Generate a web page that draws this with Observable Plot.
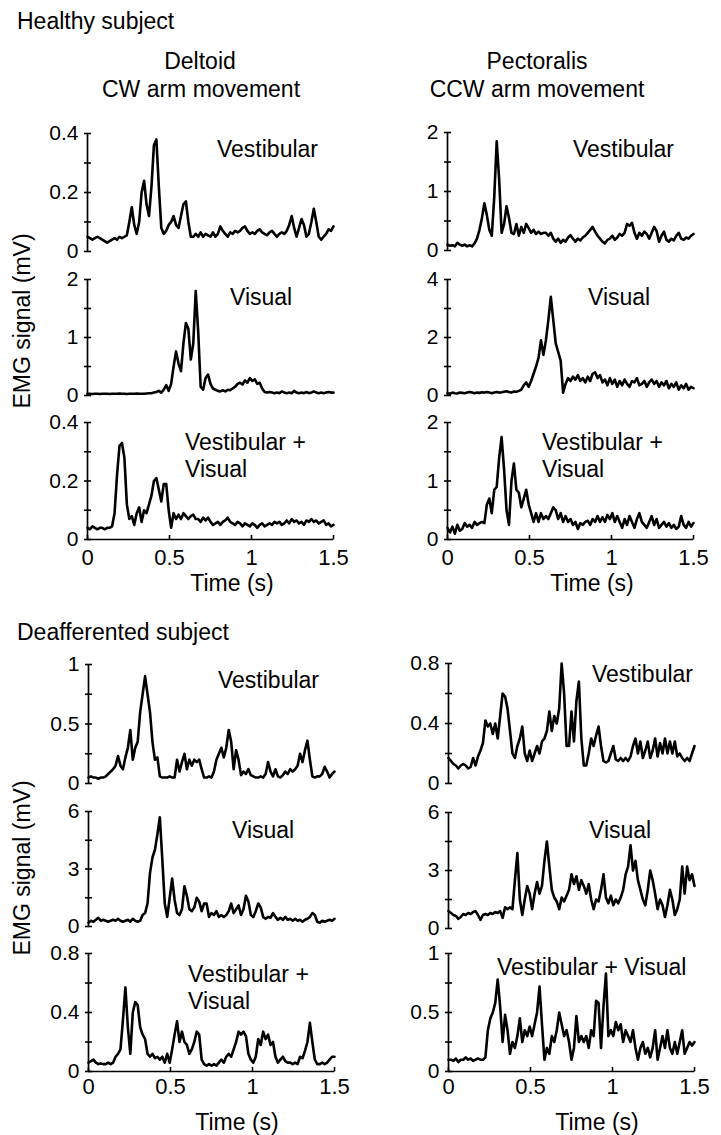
<!DOCTYPE html>
<html>
<head>
<meta charset="utf-8">
<script src="https://cdn.jsdelivr.net/npm/d3@7"></script>
<script src="https://cdn.jsdelivr.net/npm/@observablehq/plot@0.6"></script>
<style>
  body { margin: 0; background: #fff; }
  #fig { position: relative; width: 721px; height: 1135px; overflow: hidden;
         font-family: "Liberation Sans", Arial, sans-serif; color: #000; background: #fff; }
  .t { position: absolute; white-space: nowrap; line-height: 1; font-size: 23px; transform: translateY(-50%); }
  .c { transform: translate(-50%, -50%); }
  .rot { position: absolute; white-space: nowrap; line-height: 1; font-size: 23px;
         transform: translate(-50%, -50%) rotate(-90deg); }
</style>
</head>
<body>
<div id="fig"></div>
<script>
// ---------- data (EMG signal in mV, sampled every timeStep seconds from 0 to 1.5 s) ----------
const timeStep = 0.015;
const xTicks = [0, 0.5, 1, 1.5];

const healthyDeltoidVestibular = [0.05,0.045,0.04,0.045,0.05,0.045,0.04,0.035,0.03,0.035,0.04,0.045,0.04,0.05,0.045,0.05,0.055,
  0.10,0.15,0.09,0.06,0.10,0.20,0.24,0.16,0.12,0.22,0.36,0.38,0.22,
  0.08,0.06,0.07,0.09,0.10,0.12,0.09,0.08,0.12,0.16,
  0.17,0.10,0.05,0.05,0.06,0.05,0.065,0.05,0.06,0.055,
  0.05,0.065,0.05,0.06,0.085,0.07,0.06,0.05,0.065,0.06,
  0.07,0.065,0.07,0.08,0.085,0.07,0.06,0.065,0.06,0.07,
  0.075,0.065,0.06,0.055,0.065,0.07,0.06,0.05,0.06,0.065,
  0.06,0.07,0.09,0.12,0.08,0.05,0.08,0.11,0.09,0.05,
  0.06,0.10,0.145,0.10,0.05,0.04,0.05,0.06,0.075,0.07,0.085];
const healthyDeltoidVisual = [0.03,0.03,0.025,0.03,0.03,0.025,0.03,0.03,0.03,0.025,0.03,0.03,0.03,0.035,0.03,0.03,0.025,0.03,0.03,0.03,0.035,0.03,0.03,0.03,0.035,0.04,0.04,0.05,0.06,
  0.08,0.05,0.1,0.18,0.08,0.2,0.5,0.76,0.55,0.42,0.9,1.25,1.15,0.62,0.9,1.8,1.1,
  0.15,0.1,0.3,0.36,0.2,0.12,0.1,0.08,0.07,0.09,
  0.07,0.1,0.09,0.12,0.15,0.2,0.22,0.19,0.26,0.22,
  0.3,0.25,0.28,0.2,0.22,0.12,0.06,0.05,0.06,0.05,
  0.04,0.05,0.04,0.07,0.05,0.04,0.05,0.04,0.08,0.05,
  0.04,0.05,0.04,0.06,0.04,0.05,0.07,0.05,0.04,0.05,0.04,0.05,0.06,0.05,0.05];
const healthyDeltoidBoth = [0.04,0.035,0.045,0.04,0.035,0.04,0.04,0.035,0.04,0.04,0.045,
  0.09,0.22,0.32,0.33,0.28,0.12,0.07,0.08,0.05,0.09,
  0.11,0.06,0.1,0.09,0.12,0.15,0.2,0.21,0.17,0.13,
  0.19,0.19,0.1,0.04,0.09,0.07,0.085,0.07,0.09,0.08,
  0.07,0.08,0.085,0.07,0.07,0.06,0.075,0.065,0.075,0.06,
  0.05,0.055,0.06,0.05,0.06,0.065,0.075,0.06,0.055,0.05,
  0.06,0.055,0.045,0.055,0.05,0.045,0.055,0.05,0.04,0.05,
  0.055,0.045,0.05,0.055,0.05,0.06,0.055,0.06,0.05,0.055,
  0.065,0.055,0.07,0.06,0.065,0.055,0.06,0.05,0.065,0.06,
  0.07,0.06,0.065,0.055,0.06,0.065,0.05,0.055,0.045,0.05];
const healthyPectoralisVestibular = [0.1,0.08,0.09,0.07,0.13,0.1,0.08,0.1,0.07,0.09,0.07,0.12,
  0.2,0.35,0.55,0.8,0.6,0.35,0.25,0.9,1.85,1.2,
  0.3,0.45,0.75,0.55,0.3,0.28,0.45,0.25,0.4,0.3,
  0.45,0.38,0.3,0.35,0.28,0.32,0.28,0.3,
  0.3,0.25,0.3,0.2,0.15,0.2,0.13,0.18,0.15,0.22,
  0.26,0.2,0.15,0.2,0.17,0.22,0.25,0.3,0.35,0.4,
  0.32,0.25,0.2,0.15,0.12,0.18,0.2,0.25,0.18,0.22,
  0.28,0.25,0.3,0.45,0.42,0.47,0.3,0.2,0.3,0.25,
  0.32,0.28,0.2,0.3,0.4,0.33,0.15,0.25,0.32,0.18,
  0.15,0.2,0.17,0.25,0.3,0.2,0.18,0.22,0.2,0.25,0.28];
const healthyPectoralisVisual = [0.08,0.06,0.1,0.08,0.07,0.1,0.09,0.08,0.1,0.12,0.1,0.08,0.1,0.09,0.11,0.1,0.12,0.1,0.08,0.1,0.12,0.1,0.11,0.13,0.15,0.12,0.1,0.14,0.13,0.16,0.2,
  0.35,0.45,0.3,0.5,0.75,1.0,1.3,1.9,1.4,1.9,2.6,3.4,2.6,1.8,1.5,1.2,0.1,
  0.4,0.6,0.5,0.65,0.55,0.7,0.5,0.6,0.45,0.65,
  0.5,0.75,0.8,0.6,0.7,0.45,0.55,0.35,0.6,0.4,
  0.55,0.3,0.5,0.35,0.55,0.4,0.3,0.5,0.45,0.6,
  0.35,0.4,0.5,0.3,0.45,0.55,0.4,0.5,0.3,0.45,
  0.35,0.5,0.25,0.4,0.3,0.45,0.2,0.35,0.25,0.4,0.2,0.3,0.25];
const healthyPectoralisBoth = [0.2,0.12,0.22,0.1,0.25,0.15,0.18,0.28,0.22,0.25,0.2,0.3,0.25,0.28,0.3,
  0.28,0.6,0.7,0.45,0.85,0.9,1.4,1.75,1.2,0.5,
  0.25,1.0,1.3,0.85,0.8,0.55,0.7,0.85,0.6,0.45,
  0.3,0.45,0.3,0.45,0.35,0.4,0.35,0.45,0.55,0.5,
  0.35,0.45,0.3,0.4,0.3,0.35,0.25,0.3,0.18,0.28,
  0.25,0.3,0.32,0.25,0.35,0.3,0.4,0.3,0.38,0.3,
  0.42,0.35,0.45,0.3,0.4,0.3,0.2,0.35,0.25,0.4,
  0.3,0.2,0.35,0.45,0.3,0.25,0.2,0.3,0.4,0.25,
  0.35,0.2,0.25,0.3,0.22,0.28,0.2,0.25,0.18,0.22,
  0.4,0.25,0.2,0.3,0.22,0.28];
const deafDeltoidVestibular = [0.05,0.06,0.05,0.05,0.04,0.05,0.05,0.06,
  0.08,0.1,0.12,0.15,0.23,0.15,0.12,0.22,0.3,0.45,
  0.2,0.3,0.35,0.6,0.75,0.9,0.75,0.6,0.35,0.2,
  0.22,0.06,0.05,0.05,0.05,0.06,0.05,0.05,0.2,0.1,
  0.18,0.25,0.12,0.2,0.15,0.2,0.18,0.2,0.12,0.05,
  0.05,0.06,0.05,0.1,0.2,0.25,0.3,0.22,0.3,0.45,
  0.35,0.12,0.28,0.2,0.07,0.1,0.08,0.12,0.07,0.06,
  0.05,0.05,0.06,0.05,0.08,0.18,0.1,0.06,0.12,0.06,
  0.05,0.07,0.1,0.08,0.12,0.1,0.12,0.15,0.25,0.18,
  0.28,0.36,0.2,0.06,0.05,0.06,0.06,0.08,0.14,0.1,0.05,0.08,0.1];
const deafDeltoidVisual = [0.2,0.3,0.25,0.35,0.45,0.3,0.35,
  0.3,0.25,0.3,0.35,0.3,0.4,0.3,0.25,0.3,0.35,0.25,0.4,0.3,0.25,0.3,
  0.6,0.7,1.2,2.8,3.6,4.0,4.8,5.7,3.5,1.2,
  0.5,1.5,2.5,1.4,0.7,0.6,0.9,2.1,1.6,0.9,
  0.8,1.0,1.5,1.3,0.8,1.2,1.2,0.5,0.7,0.6,0.8,0.5,0.6,
  0.5,0.6,0.8,1.2,0.7,0.9,1.1,0.6,0.9,1.6,
  1.3,0.6,0.5,0.8,1.2,1.0,0.5,0.4,0.5,0.45,
  0.7,0.5,0.35,0.45,0.35,0.5,0.35,0.4,0.3,0.4,
  0.3,0.35,0.25,0.35,0.4,0.5,0.7,0.6,0.25,0.2,
  0.3,0.25,0.3,0.35,0.3,0.4];
const deafDeltoidBoth = [0.06,0.07,0.08,0.06,0.05,0.055,0.05,0.05,0.06,0.05,0.06,
  0.1,0.12,0.15,0.35,0.57,0.3,0.12,0.4,0.47,0.45,
  0.3,0.25,0.22,0.12,0.1,0.12,0.09,0.1,0.08,0.1,
  0.06,0.12,0.06,0.15,0.25,0.34,0.2,0.27,0.2,0.18,
  0.12,0.15,0.2,0.27,0.25,0.08,0.05,0.04,0.05,0.04,
  0.05,0.04,0.06,0.08,0.06,0.1,0.12,0.1,0.15,0.2,
  0.27,0.25,0.27,0.24,0.12,0.08,0.06,0.1,0.22,0.18,
  0.27,0.22,0.25,0.18,0.2,0.1,0.06,0.08,0.1,0.07,
  0.06,0.06,0.05,0.06,0.05,0.1,0.09,0.14,0.2,0.33,
  0.2,0.08,0.05,0.05,0.06,0.05,0.06,0.08,0.1,0.1];
const deafPectoralisVestibular = [0.17,0.15,0.13,0.12,0.1,0.12,0.13,0.12,0.1,0.11,
  0.17,0.12,0.18,0.22,0.27,0.42,0.38,0.4,0.33,0.4,
  0.3,0.45,0.6,0.58,0.5,0.35,0.2,0.17,0.25,0.3,
  0.38,0.2,0.15,0.22,0.15,0.2,0.25,0.2,0.28,0.3,
  0.35,0.48,0.35,0.45,0.4,0.5,0.8,0.6,0.25,0.25,
  0.48,0.28,0.55,0.68,0.3,0.12,0.12,0.2,0.3,0.25,
  0.32,0.38,0.25,0.15,0.14,0.15,0.2,0.25,0.16,0.15,
  0.17,0.15,0.17,0.15,0.18,0.25,0.3,0.2,0.28,0.17,
  0.22,0.28,0.17,0.22,0.3,0.18,0.27,0.2,0.3,0.2,
  0.28,0.2,0.28,0.18,0.2,0.17,0.15,0.17,0.15,0.2,0.25];
const deafPectoralisVisual = [0.9,0.8,0.7,0.65,0.5,0.6,0.75,0.7,0.8,0.75,
  0.85,0.9,0.7,0.45,0.7,0.75,0.7,0.8,0.75,0.85,
  0.8,0.9,0.55,1.1,1.0,1.1,1.0,2.5,3.9,1.5,
  0.7,1.5,2.2,1.8,1.0,1.8,2.4,1.8,2.2,3.5,
  4.5,3.2,2.0,1.6,1.4,1.0,1.6,1.4,1.7,2.0,
  2.8,2.3,2.7,2.0,2.5,2.2,1.8,2.3,1.5,1.0,
  1.5,1.4,2.0,2.8,1.6,1.3,1.7,1.2,1.5,1.3,
  1.6,2.0,2.8,3.2,4.3,3.0,3.5,2.5,2.0,1.5,
  1.2,2.0,3.0,2.5,1.8,1.0,1.5,1.2,0.6,1.2,
  2.0,1.5,0.7,1.0,1.5,3.2,1.8,3.2,2.5,2.8,2.2];
const deafPectoralisBoth = [0.1,0.1,0.09,0.11,0.08,0.1,0.1,0.12,0.1,0.11,0.09,0.1,0.11,0.1,0.1,0.12,
  0.35,0.45,0.5,0.58,0.78,0.55,0.25,0.48,0.35,0.15,
  0.25,0.2,0.3,0.45,0.25,0.35,0.3,0.38,0.3,0.4,
  0.5,0.72,0.4,0.1,0.2,0.15,0.3,0.25,0.35,0.5,
  0.4,0.3,0.35,0.25,0.1,0.2,0.47,0.25,0.3,0.25,
  0.3,0.2,0.35,0.3,0.6,0.58,0.2,0.55,0.83,0.3,
  0.35,0.3,0.42,0.35,0.4,0.25,0.35,0.3,0.25,0.35,
  0.2,0.1,0.2,0.25,0.15,0.2,0.12,0.2,0.35,0.1,
  0.2,0.3,0.2,0.35,0.2,0.15,0.25,0.15,0.25,0.35,
  0.15,0.2,0.25,0.22,0.25];

// y-axis tick values (minor = all tick marks, major = labelled)
const ticks04 = {minor: [0, 0.1, 0.2, 0.3, 0.4], major: [0, 0.2, 0.4]};
const ticks2 = {minor: [0, 0.5, 1, 1.5, 2], major: [0, 1, 2]};
const ticks4 = {minor: [0, 1, 2, 3, 4], major: [0, 2, 4]};
const ticks1 = {minor: [0, 0.25, 0.5, 0.75, 1], major: [0, 0.5, 1]};
const ticks6 = {minor: [0, 1.5, 3, 4.5, 6], major: [0, 3, 6]};
const ticks08 = {minor: [0, 0.2, 0.4, 0.6, 0.8], major: [0, 0.4, 0.8]};

// ---------- layout ----------
const fig = document.getElementById("fig");
const FONT = '"Liberation Sans", Arial, sans-serif';
const plotW = 246;

// tick-mark symbols: a short horizontal dash across the y axis, a short upward dash on the x axis
const crossTick = {draw(ctx) { ctx.moveTo(-3.5, 0); ctx.lineTo(3.5, 0); }};
const upTick = {draw(ctx) { ctx.moveTo(0, 0); ctx.lineTo(0, -4.5); }};

const panels = [
  {values: healthyDeltoidVestibular, yMax: 0.4, ticks: ticks04, left: 87, top: 133, bottom: 251},
  {values: healthyDeltoidVisual, yMax: 2, ticks: ticks2, left: 87, top: 279, bottom: 395},
  {values: healthyDeltoidBoth, yMax: 0.4, ticks: ticks04, left: 87, top: 422, bottom: 539, xPad: 10},
  {values: healthyPectoralisVestibular, yMax: 2, ticks: ticks2, left: 447, top: 132, bottom: 250},
  {values: healthyPectoralisVisual, yMax: 4, ticks: ticks4, left: 447, top: 279, bottom: 395},
  {values: healthyPectoralisBoth, yMax: 2, ticks: ticks2, left: 447, top: 422, bottom: 539, xPad: 10},
  {values: deafDeltoidVestibular, yMax: 1, ticks: ticks1, left: 88, top: 664, bottom: 783},
  {values: deafDeltoidVisual, yMax: 6, ticks: ticks6, left: 88, top: 811, bottom: 926},
  {values: deafDeltoidBoth, yMax: 0.8, ticks: ticks08, left: 88, top: 953, bottom: 1071, xPad: 7},
  {values: deafPectoralisVestibular, yMax: 0.8, ticks: ticks08, left: 448, top: 663, bottom: 783},
  {values: deafPectoralisVisual, yMax: 6, ticks: ticks6, left: 448, top: 812, bottom: 928},
  {values: deafPectoralisBoth, yMax: 1, ticks: ticks1, left: 448, top: 953, bottom: 1071, xPad: 7}
];

function drawPanel(p) {
  const ml = 60, mr = 30, mt = 12, mb = p.xPad != null ? 50 : 12;
  const h = p.bottom - p.top;
  const data = p.values.map((v, i) => ({t: i * timeStep, v}));
  const marks = [
    Plot.ruleX([0], {stroke: "#000", strokeWidth: 1.7}),
    Plot.dot(p.ticks.minor, {x: () => 0, y: d => d, symbol: crossTick, fill: "none", stroke: "#000", strokeWidth: 1.6}),
    Plot.axisY({ticks: p.ticks.major, tickSize: 0, tickPadding: 9, tickFormat: d => String(d), fontSize: 21, label: null}),
    Plot.line(data, {x: "t", y: "v", stroke: "#000", strokeWidth: 2.6, strokeLinejoin: "round"})
  ];
  if (p.xPad != null) {
    marks.push(
      Plot.ruleY([0], {stroke: "#000", strokeWidth: 1.7}),
      Plot.dot(xTicks, {x: d => d, y: () => 0, symbol: upTick, fill: "none", stroke: "#000", strokeWidth: 1.6}),
      Plot.axisX({ticks: xTicks, tickSize: 0, tickPadding: p.xPad, tickFormat: d => String(d), fontSize: 22, label: null})
    );
  }
  const svg = Plot.plot({
    width: ml + plotW + mr, height: mt + h + mb,
    marginLeft: ml, marginRight: mr, marginTop: mt, marginBottom: mb,
    x: {domain: [0, 1.5], axis: null},
    y: {domain: [0, p.yMax], axis: null},
    style: {fontFamily: FONT, fontSize: "21px", color: "#000", background: "none", overflow: "visible"},
    marks
  });
  svg.style.position = "absolute";
  svg.style.left = (p.left - ml) + "px";
  svg.style.top = (p.top - mt) + "px";
  fig.appendChild(svg);
}
panels.forEach(drawPanel);

// ---------- text ----------
function label(text, x, y, cls = "t") {
  const d = document.createElement("div");
  d.className = cls;
  d.textContent = text;
  d.style.left = x + "px";
  d.style.top = y + "px";
  fig.appendChild(d);
}
label("Healthy subject", 17, 21);
label("Deltoid", 200, 61, "t c");
label("CW arm movement", 201, 89, "t c");
label("Pectoralis", 537, 61, "t c");
label("CCW arm movement", 537, 89, "t c");
label("Vestibular", 217, 149);
label("Visual", 230, 297);
label("Vestibular +", 185, 442);
label("Visual", 185, 469);
label("Vestibular", 573, 149);
label("Visual", 588, 297);
label("Vestibular +", 542, 442);
label("Visual", 542, 469);
label("Time (s)", 232, 583, "t c");
label("Time (s)", 592, 583, "t c");
label("EMG signal (mV)", 22, 321, "rot");

label("Deafferented subject", 17, 632);
label("Vestibular", 218, 680);
label("Vestibular", 592, 674);
label("Visual", 232, 830);
label("Visual", 589, 830);
label("Vestibular +", 188, 974);
label("Visual", 188, 1001);
label("Vestibular + Visual", 497, 967);
label("Time (s)", 237, 1122, "t c");
label("Time (s)", 597, 1122, "t c");
label("EMG signal (mV)", 22, 868, "rot");
</script>
</body>
</html>
